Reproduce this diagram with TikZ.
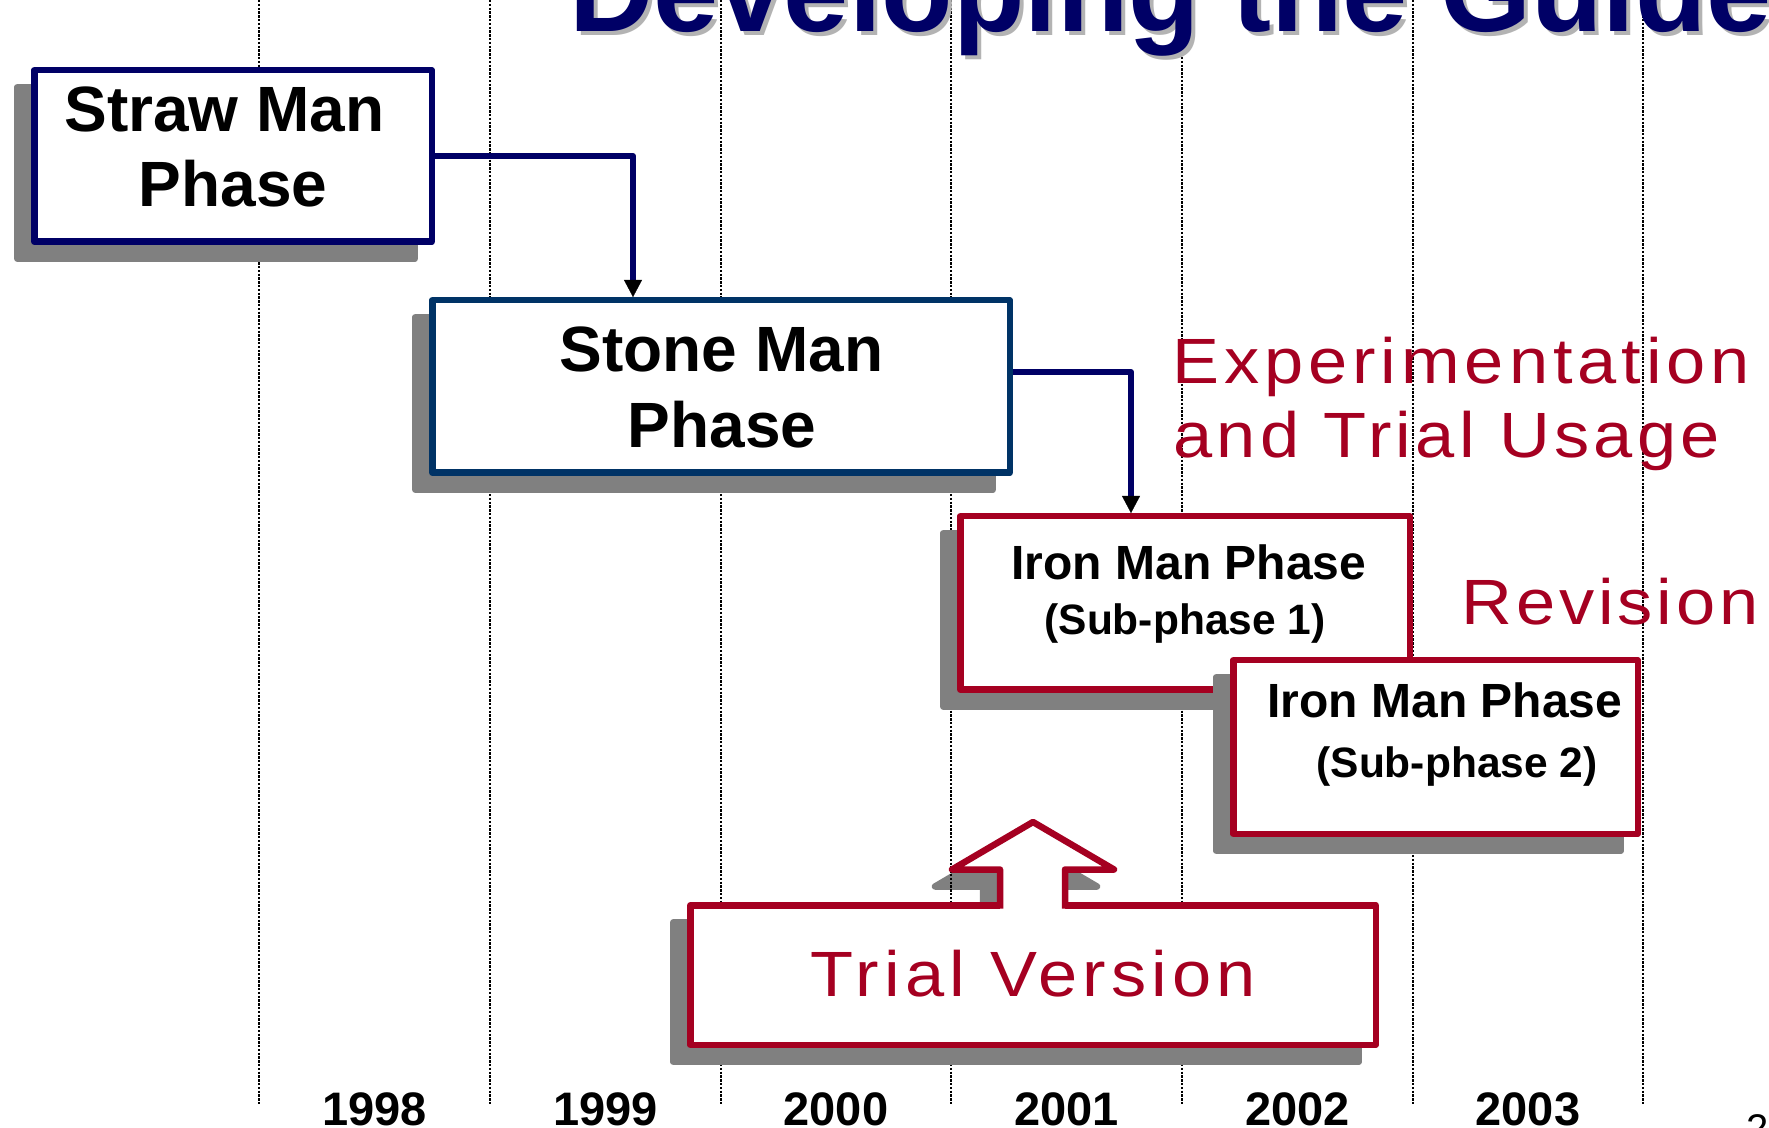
\documentclass[tikz,border=0pt]{standalone}
\usepackage{fontspec}
\setmainfont{Liberation Sans}
\usetikzlibrary{arrows.meta,shadows}
\definecolor{navy}{HTML}{000066}
\definecolor{stoneblue}{HTML}{003366}
\definecolor{crimson}{HTML}{A50021}
\definecolor{shadowgray}{HTML}{808080}
\definecolor{titleshadow}{HTML}{B3B3B3}
\newcommand{\redtext}[1]{\fontsize{32}{38}\selectfont\addfontfeatures{FakeStretch=1.1,LetterSpace=#1}}
\begin{document}
\begin{tikzpicture}[x=0.5pt,y=-0.5pt,
  phasebox/.style={draw, line width=3.25pt, fill=white, line join=round, inner sep=0pt,
    drop shadow={shadow xshift=-8.5pt, shadow yshift=-8.5pt, fill=shadowgray, draw=shadowgray, line width=3.25pt, opacity=1}},
  bluebox/.style={phasebox, draw=navy},
  stonebox/.style={phasebox, draw=stoneblue},
  redbox/.style={phasebox, draw=crimson},
  bigtext/.style={anchor=base, inner sep=0pt, font=\fontsize{32}{36}\selectfont\bfseries},
  irontext/.style={anchor=base, inner sep=0pt, font=\fontsize{24}{28}\selectfont\bfseries},
  subtext/.style={anchor=base, inner sep=0pt, font=\fontsize{21.25}{25}\selectfont\bfseries},
  redlabel/.style={anchor=base west, inner sep=0pt, text=crimson},
  yeartext/.style={anchor=base, inner sep=0pt, font=\fontsize{23.5}{28}\selectfont\bfseries},
  gridline/.style={black, line width=0.95pt, dash pattern=on 1.2pt off 0.7pt},
  conn/.style={navy, line width=3.1pt, line join=round, -{Triangle[width=9pt,length=8.5pt,line width=0.1pt,color=black]}},
  titlefont/.style={anchor=base west, inner sep=0pt, font=\fontsize{58.5}{64}\selectfont\bfseries}
]
\useasboundingbox (0,0) rectangle (1769,1128);
\clip (0,0) rectangle (1769,1128);

% shadow of the trial-version arrow
\draw[shadowgray, fill=shadowgray, line width=3.25pt, line join=round]
  (983,925) -- (983,886.5) -- (935,886.5) -- (1016,839) -- (1097,886.5) -- (1048,886.5) -- (1048,925) -- cycle;

% year grid lines
\foreach \x in {259,490,721,951,1182,1413,1643}
  \draw[gridline] (\x,0) -- (\x,1105);

% title (cut off at the top)
\node[titlefont, text=titleshadow] (titleshadow) at (573,36) {Developing the Guide};
\node[titlefont, text=navy] (title) at (569,32) {Developing the Guide};

% boxes
\node[bluebox, minimum width=198.75pt, minimum height=85.75pt] (straw) at (233,156) {};
\node[bigtext] (straw1) at (224.5,132) {Straw Man};
\node[bigtext] (straw2) at (233,207) {Phase};

\node[stonebox, minimum width=288.75pt, minimum height=86.25pt] (stone) at (721,386.5) {};
\node[bigtext] (stone1) at (721.5,372) {Stone Man};
\node[bigtext] (stone2) at (722,448) {Phase};

\node[redbox, minimum width=224.75pt, minimum height=86.75pt] (iron1) at (1185,603) {};
\node[irontext] (iron1a) at (1189,580) {Iron Man Phase};
\node[subtext] (iron1b) at (1185,635) {(Sub-phase 1)};

\node[redbox, minimum width=202.25pt, minimum height=86.75pt] (iron2) at (1435.5,747) {};
\node[irontext] (iron2a) at (1445,718) {Iron Man Phase};
\node[subtext] (iron2b) at (1457,777) {(Sub-phase 2)};

\node[redbox, minimum width=342.75pt, minimum height=69.75pt] (trial) at (1033,975) {};
% up arrow on the trial box
\fill[white] (1000,910) -- (1000,869.5) -- (952,869.5) -- (1033,822) -- (1114,869.5) -- (1065,869.5) -- (1065,910) -- cycle;
\draw[crimson, line width=3.25pt, line join=round]
  (1000,908.5) -- (1000,869.5) -- (952,869.5) -- (1033,822) -- (1114,869.5) -- (1065,869.5) -- (1065,908.5);
\node[redlabel, font=\redtext{8.1}] (trialtext) at (810,996) {Trial Version};

% connectors
\coordinate (k1) at (633,0);
\draw[conn] (straw.east) -| (k1 |- stone.north);
\coordinate (k2) at (1131,0);
\draw[conn] ([yshift=7.25pt]stone.east) -| (k2 |- iron1.north);

% red labels
\node[redlabel, font=\redtext{7.7}] (exp) at (1172,384) {Experimentation};
\node[redlabel, font=\redtext{6.8}] (and) at (1173,458) {and Trial Usage};
\node[redlabel, font=\redtext{6}] (rev) at (1461,625) {Revision};

% years
\node[yeartext] (y1998) at (374.5,1125) {1998};
\node[yeartext] (y1999) at (605.5,1125) {1999};
\node[yeartext] (y2000) at (836,1125) {2000};
\node[yeartext] (y2001) at (1066.5,1125) {2001};
\node[yeartext] (y2002) at (1297.5,1125) {2002};
\node[yeartext] (y2003) at (1528,1125) {2003};

% page number (cut off)
\node[anchor=base west, inner sep=0pt, font=\fontsize{20}{24}\selectfont] (pagenum) at (1746,1142) {2};
\end{tikzpicture}
\end{document}
